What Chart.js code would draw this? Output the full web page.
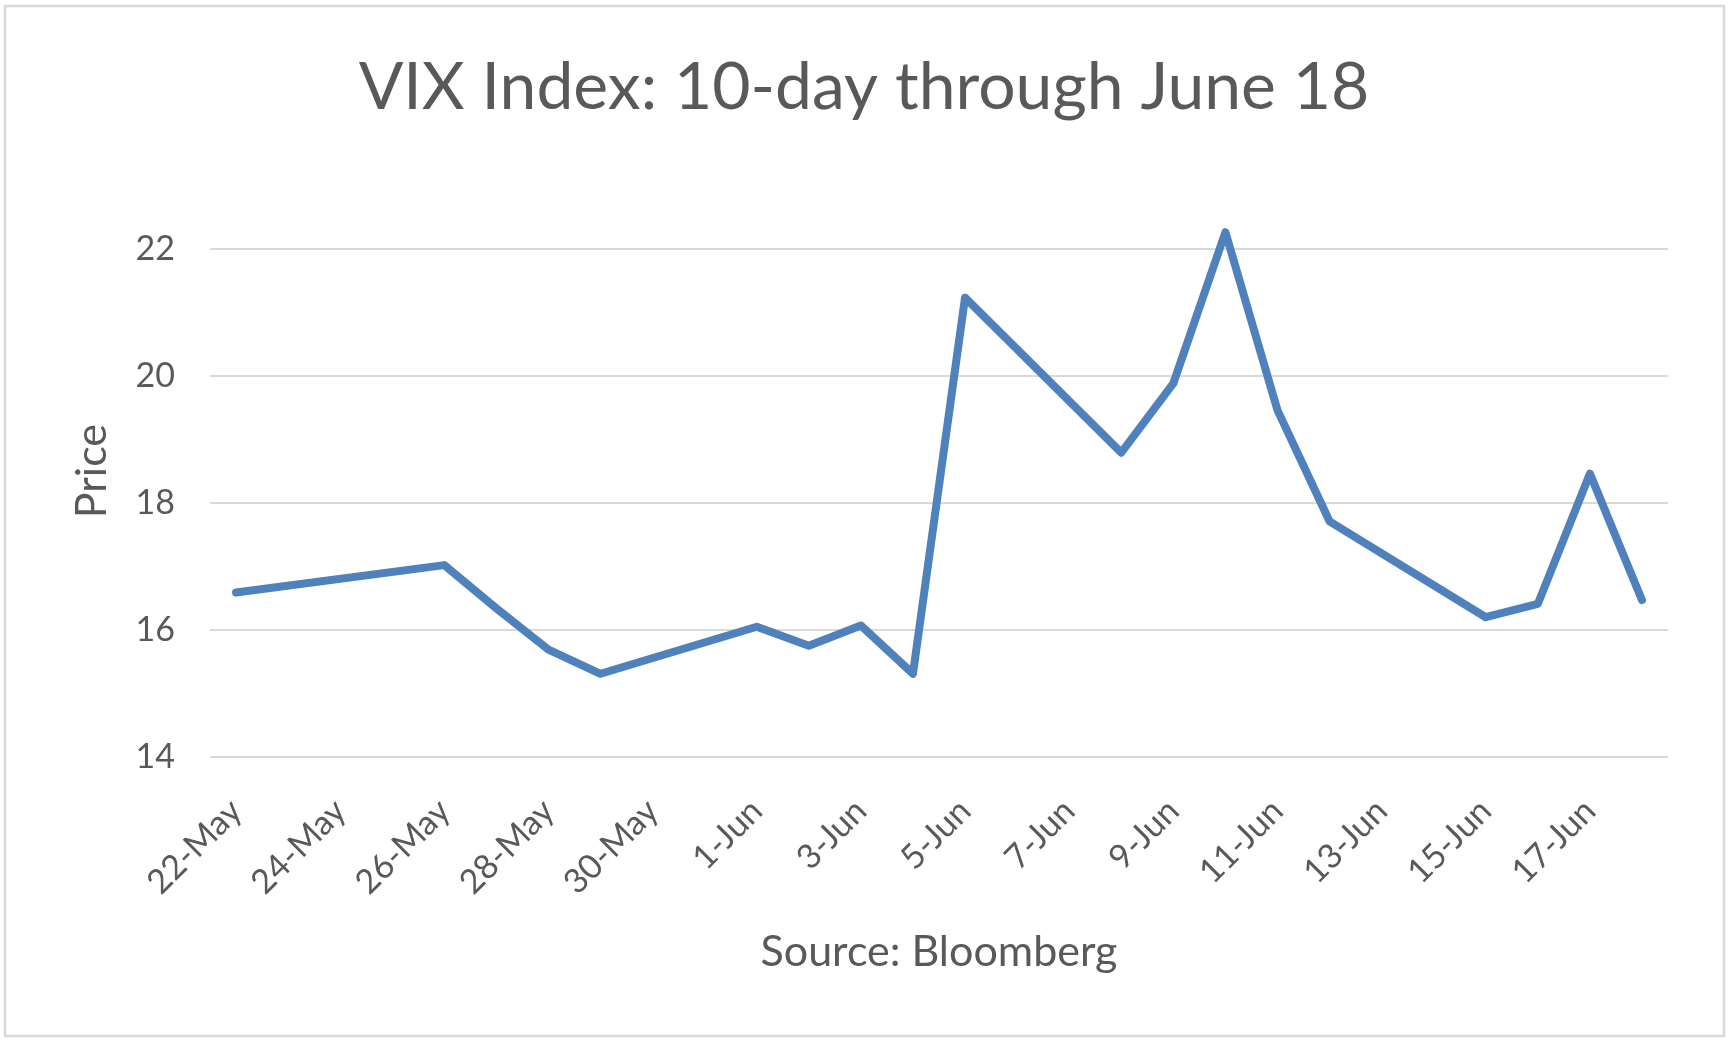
<!DOCTYPE html>
<html>
<head>
<meta charset="utf-8">
<title>VIX Index</title>
<script src="https://cdn.jsdelivr.net/npm/chart.js@4.4.1/dist/chart.umd.min.js"></script>
<style>
  html, body { margin: 0; padding: 0; background: #fff; }
  #wrap { width: 1732px; height: 1045px; }
</style>
</head>
<body>
<div id="wrap"><canvas id="chart" width="1732" height="1045"></canvas></div>
<script>
// one slot per calendar day, trading days only have a value
const days = ['22-May', '23-May', '24-May', '25-May', '26-May', '27-May', '28-May',
    '29-May', '30-May', '31-May', '1-Jun', '2-Jun', '3-Jun', '4-Jun', '5-Jun',
    '6-Jun', '7-Jun', '8-Jun', '9-Jun', '10-Jun', '11-Jun', '12-Jun', '13-Jun',
    '14-Jun', '15-Jun', '16-Jun', '17-Jun', '18-Jun'];
const vixClose = [16.59, null, null, null, 17.02, 16.34, 15.69, 15.31, null, null,
    16.05, 15.75, 16.07, 15.31, 21.23, null, null, 18.79, 19.88, 22.26, 19.46, 17.71,
    null, null, 16.20, 16.41, 18.46, 16.47];
const yTicks = [14, 16, 18, 20, 22];

const grey = '#595959';
const fontName = 'Lato, "Open Sans", sans-serif';

// light frame round the whole chart, like the excel chart border
const framePlugin = {
    id: 'frame',
    beforeDraw(chart) {
        const ctx = chart.ctx;
        ctx.save();
        ctx.fillStyle = '#ffffff';
        ctx.fillRect(0, 0, chart.width, chart.height);
        ctx.strokeStyle = '#d9d9d9';
        ctx.lineWidth = 2.5;
        ctx.strokeRect(5, 6, 1719, 1030);
        ctx.restore();
    }
};

function draw() {
    new Chart(document.getElementById('chart'), {
        type: 'line',
        data: {
            labels: days,
            datasets: [{
                label: 'VIX',
                data: vixClose,
                spanGaps: true,
                borderColor: '#4f81bd',
                borderWidth: 8,
                borderCapStyle: 'round',
                borderJoinStyle: 'round',
                pointRadius: 0,
                tension: 0
            }]
        },
        options: {
            responsive: false,
            animation: false,
            devicePixelRatio: 1,
            layout: {padding: {left: 60, right: 64, top: 0, bottom: 0}},
            plugins: {
                legend: {display: false},
                tooltip: {enabled: false},
                title: {
                    display: true,
                    text: 'VIX Index: 10-day through June 18',
                    color: grey,
                    font: {family: fontName, size: 66, weight: 'normal', lineHeight: 1.2},
                    padding: {top: 48, bottom: 58}
                }
            },
            scales: {
                x: {
                    type: 'category',
                    offset: true,
                    grid: {display: false},
                    border: {display: false},
                    ticks: {
                        autoSkip: false,
                        minRotation: 45,
                        maxRotation: 45,
                        padding: 26,
                        color: grey,
                        font: {family: fontName, size: 34},
                        callback: (v, i) => (i % 2 === 0 ? days[i] : '')
                    },
                    title: {
                        display: true,
                        text: 'Source: Bloomberg',
                        color: grey,
                        font: {family: fontName, size: 43},
                        padding: {top: 0, bottom: 67}
                    },
                    afterFit: (scale) => { scale.height = 288; }
                },
                y: {
                    min: 14,
                    max: 23,
                    grid: {color: '#d9d9d9', lineWidth: 2, drawTicks: false},
                    border: {display: false},
                    ticks: {
                        stepSize: 2,
                        padding: 35,
                        color: grey,
                        font: {family: fontName, size: 34}
                    },
                    afterBuildTicks: (scale) => {
                        scale.ticks = yTicks.map(v => ({value: v}));
                    },
                    title: {
                        display: true,
                        text: 'Price',
                        color: grey,
                        font: {family: fontName, size: 43},
                        padding: {top: 6, bottom: 0}
                    },
                    afterFit: (scale) => { scale.width = 150; }
                }
            }
        },
        plugins: [framePlugin]
    });
}

document.fonts.load('34px Lato').then(draw, draw);
</script>
</body>
</html>
